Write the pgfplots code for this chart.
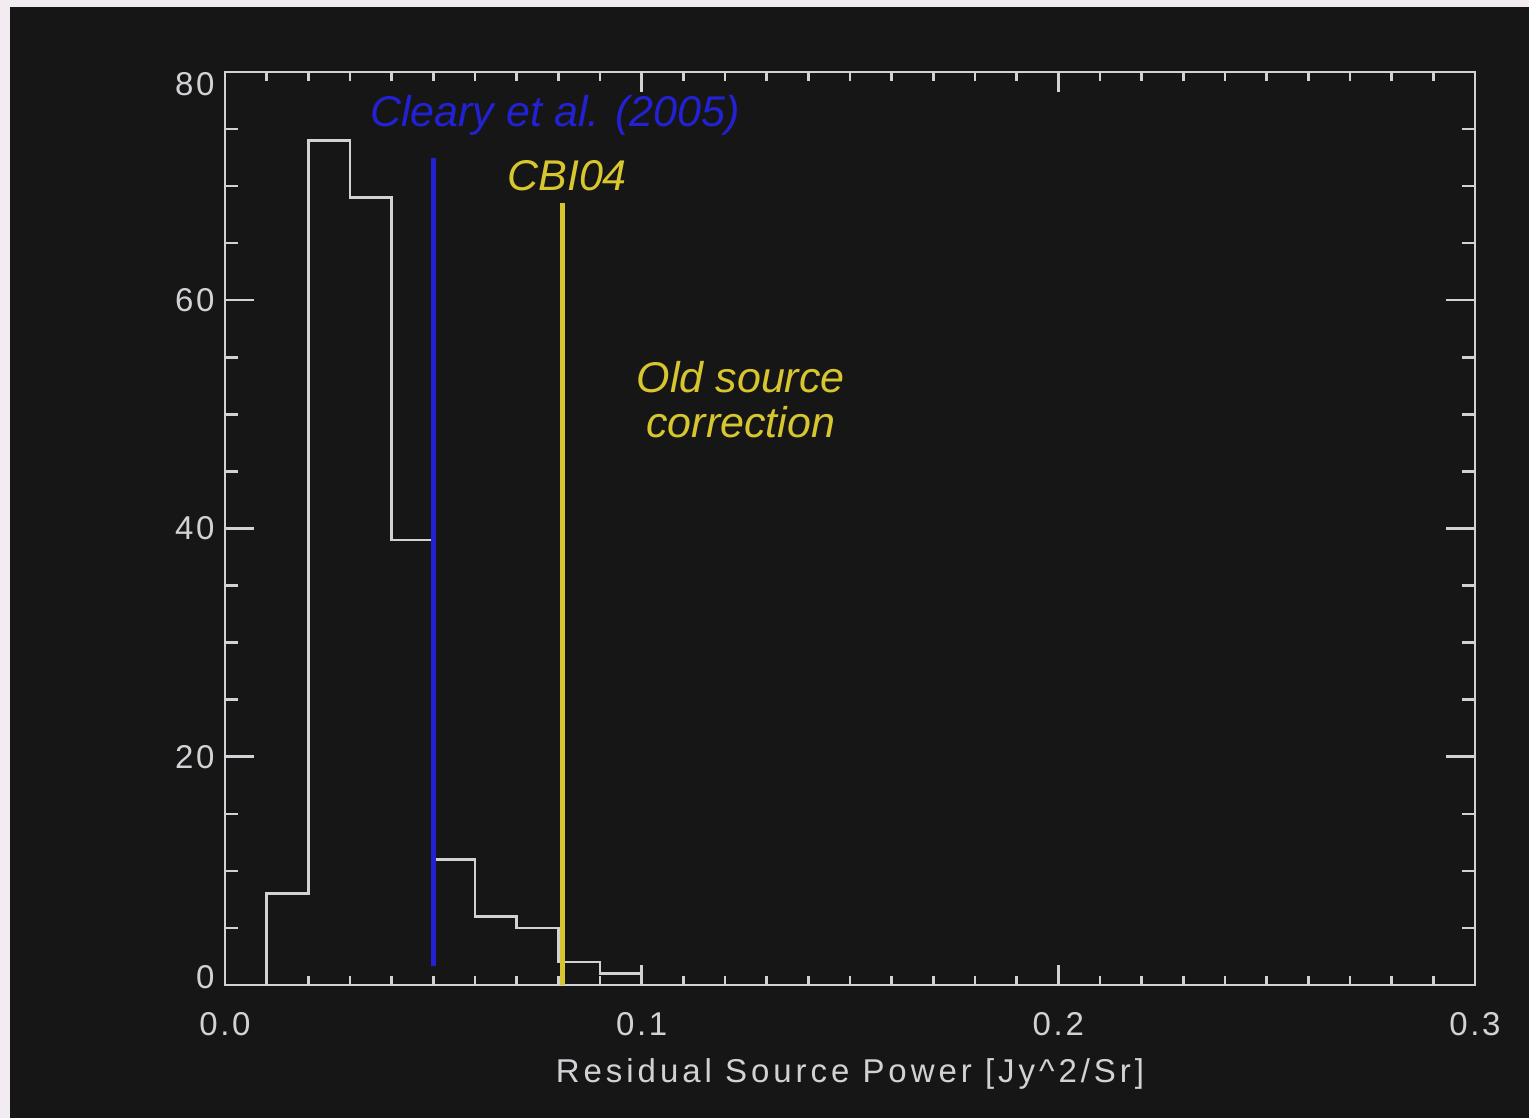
\documentclass[border=0pt]{standalone}
\usepackage{fontspec}
\setmainfont{Liberation Sans}
\newfontfamily\idl[LetterSpace=8]{Liberation Sans}
\newfontfamily\idlw[LetterSpace=12]{Liberation Sans}
\usepackage{pgfplots}
\pgfplotsset{compat=1.18}
\definecolor{bg}{HTML}{161616}
\definecolor{frame}{HTML}{F2ECF2}
\definecolor{axc}{HTML}{D2D2D6}
\definecolor{cblue}{HTML}{2222D4}
\definecolor{cyel}{HTML}{D8C62E}
\begin{document}
\begin{tikzpicture}
\path[use as bounding box] (0,0) rectangle (1529pt,1118pt);
\fill[frame] (0,0) rectangle (1529pt,1118pt);
\fill[bg] (10pt,0) rectangle (1529pt,1111pt);
\begin{axis}[
  at={(225pt,133pt)}, anchor=south west,
  scale only axis, width=1250pt, height=913pt,
  xmin=0, xmax=0.3, ymin=0, ymax=80,
  axis line style={axc, line width=2.8pt},
  every tick/.style={axc, line width=2.5pt},
  major tick length=29pt, minor tick length=13pt,
  xtick style={/pgfplots/major tick length=20pt, /pgfplots/minor tick length=9pt},
  tick align=inside,
  xtick={0,0.1,0.2,0.3}, xticklabels={0.0,0.1,0.2,0.3},
  ytick={0,20,40,60,80}, yticklabels={0,20,40,60,80},
  minor x tick num=9, minor y tick num=3,
  xtick pos=both, ytick pos=both,
  ticklabel style={font=\fontsize{33}{38}\idl, text=axc},
  xticklabel style={yshift=-24pt},
  yticklabel style={xshift=-7pt, yshift={ifthenelse(\ticknum==0,8,ifthenelse(\ticknum==4,-12,0))}},
  xlabel={Residual Source Power [Jy\^{}2/Sr]},
  xlabel style={font=\fontsize{33}{38}\idlw, text=axc, yshift=-16pt},
  clip=false,
]
\addplot[axc, line width=2.5pt] coordinates {
 (0.01,0) (0.01,8) (0.02,8) (0.02,74) (0.03,74) (0.03,69) (0.04,69) (0.04,39)
 (0.05,39) (0.05,11) (0.06,11) (0.06,6) (0.07,6) (0.07,5) (0.08,5) (0.08,2)
 (0.09,2) (0.09,1) (0.10,1) (0.10,0)};
\addplot[cblue, line width=5pt] coordinates {(0.05,1.7) (0.05,72.5)};
\addplot[cyel, line width=5pt] coordinates {(0.081,0) (0.081,68.5)};
\node[text=cblue, font=\fontsize{43}{48}\selectfont\itshape] at (axis cs:0.0792,76.2) {Cleary et al. (2005)};
\node[text=cyel, font=\fontsize{43}{48}\selectfont\itshape] at (axis cs:0.0821,70.9) {CBI04};
\node[text=cyel, font=\fontsize{43}{45}\selectfont\itshape, align=center] at (axis cs:0.1238,51.25) {Old source\\correction};
\end{axis}
\end{tikzpicture}
\end{document}
